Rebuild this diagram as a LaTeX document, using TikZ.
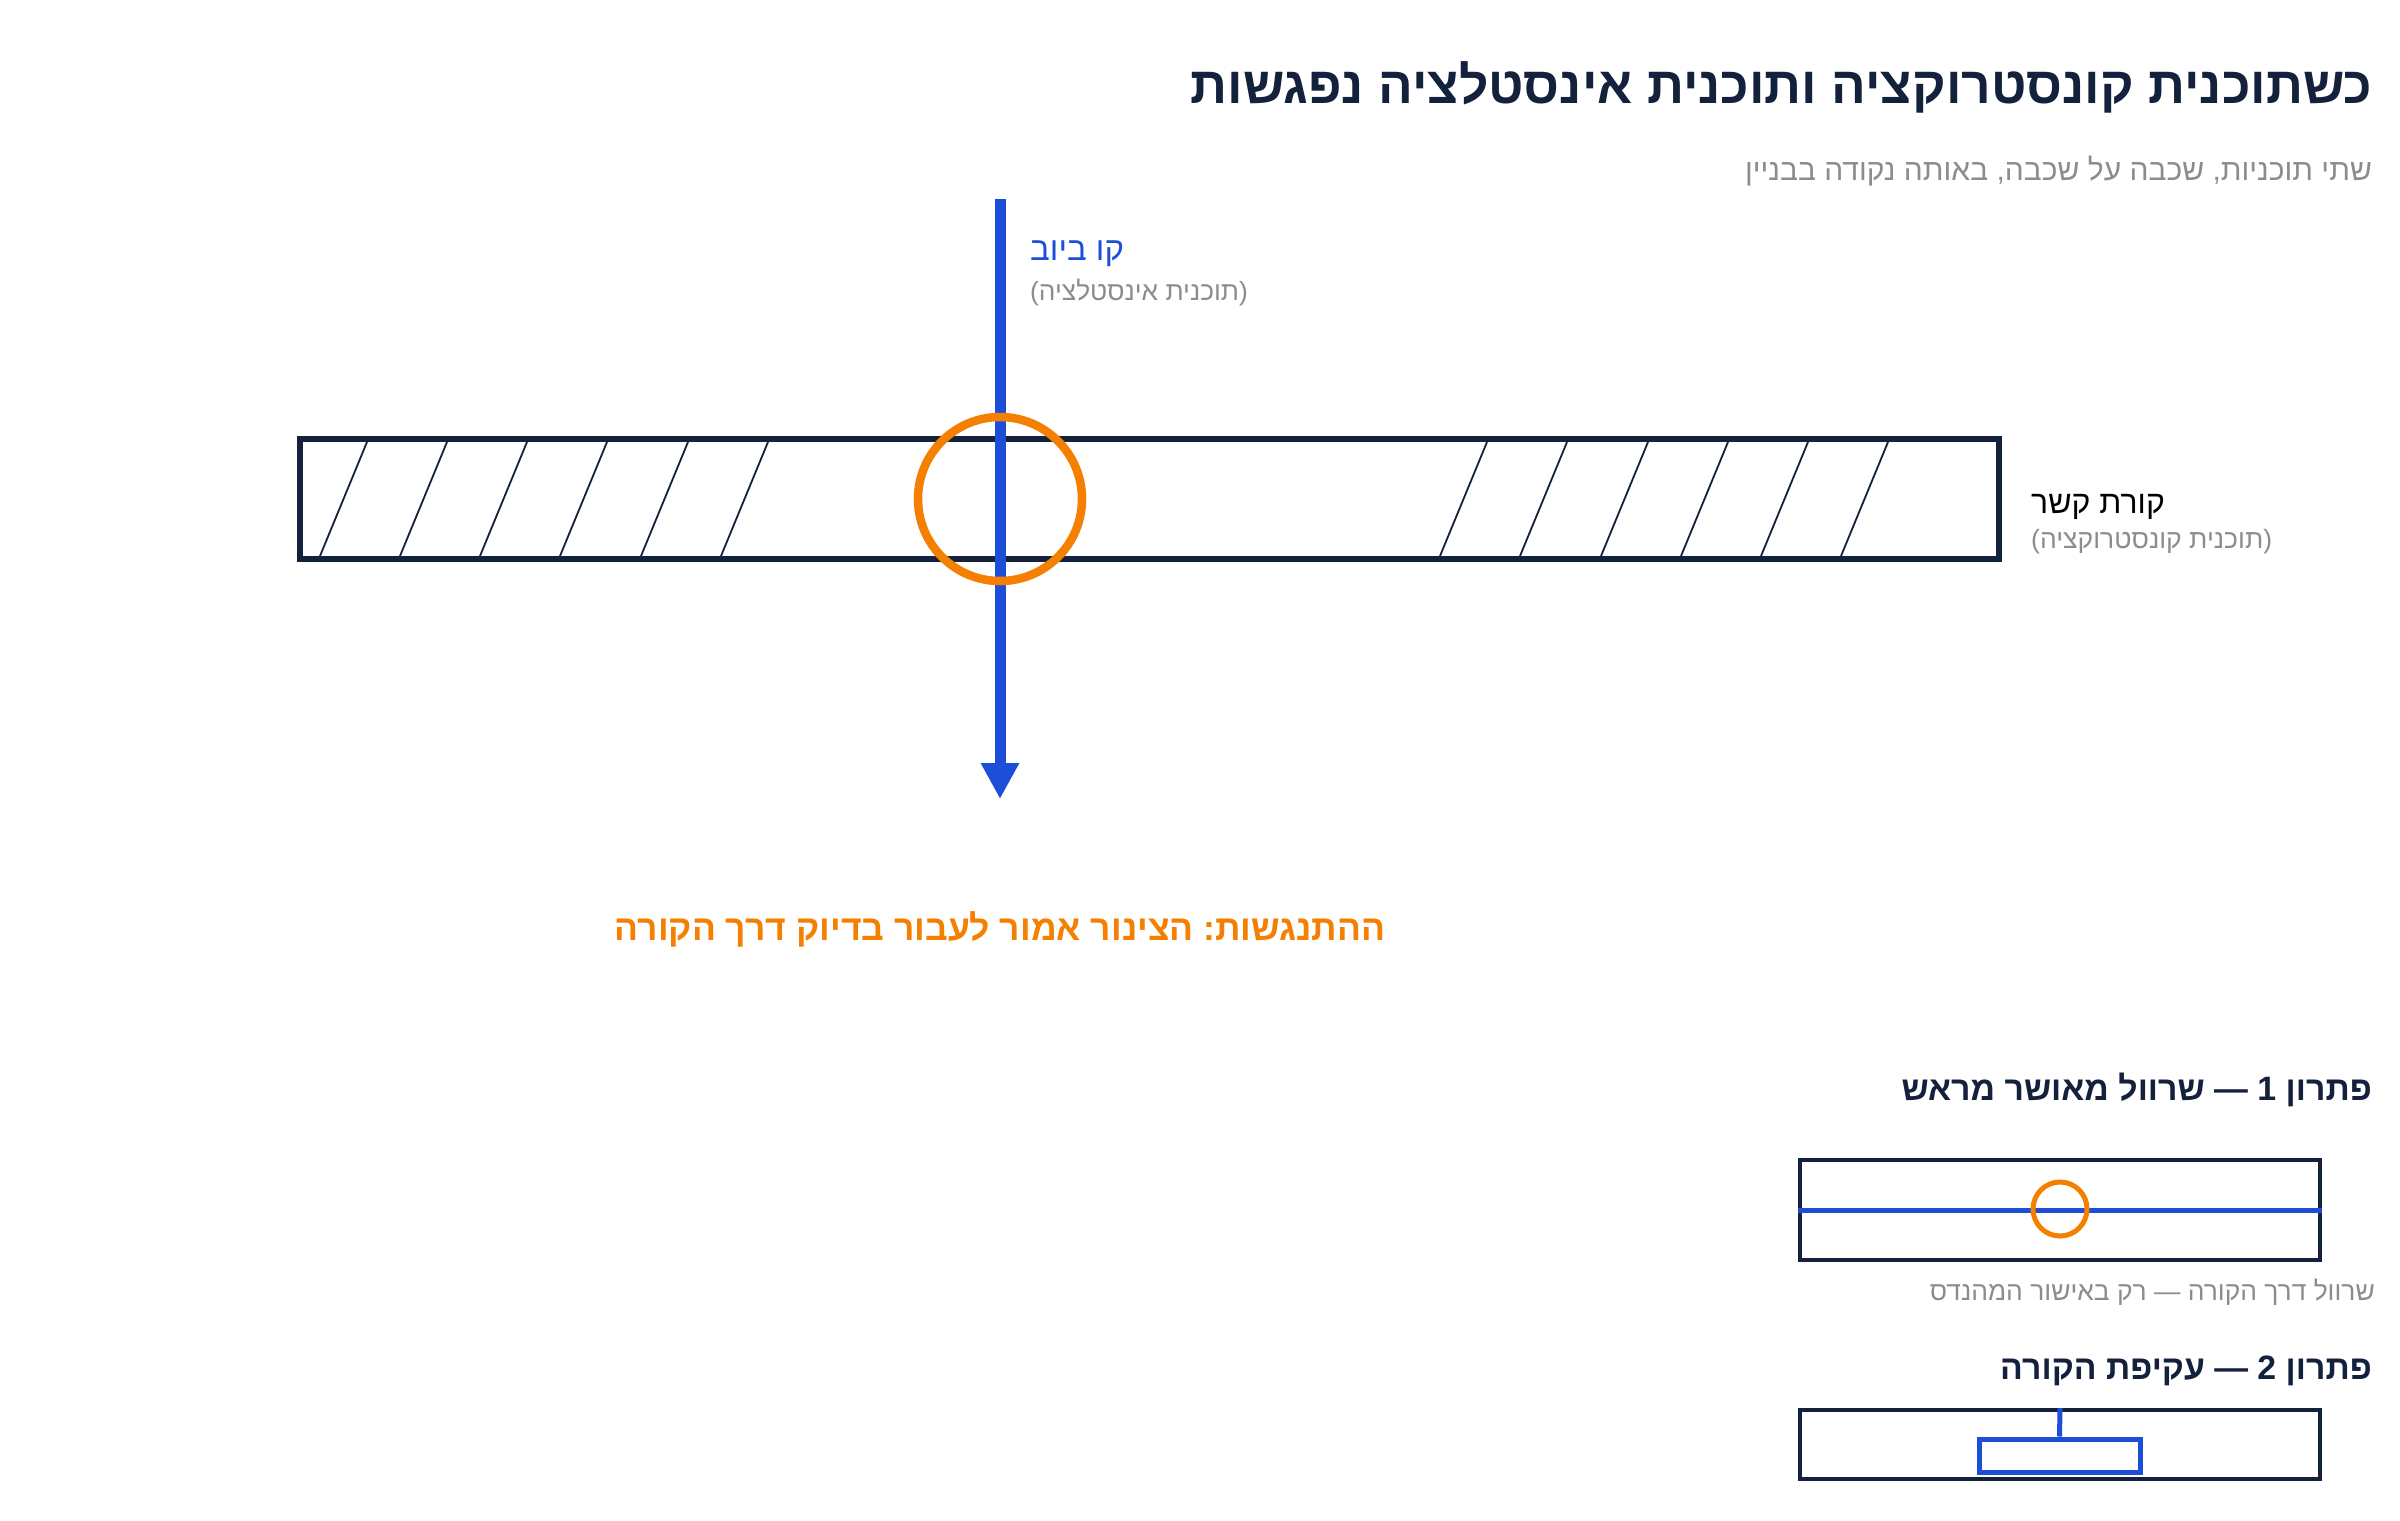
\documentclass[tikz,border=0pt]{standalone}
\usepackage{fontspec}
\setmainfont{Liberation Sans}
\newfontfamily\heb[Script=Hebrew]{Liberation Sans}
\TeXXeTstate=1
\frenchspacing
\usetikzlibrary{arrows.meta}
\definecolor{navy}{HTML}{14213D}
\definecolor{pipeblue}{HTML}{1D4ED8}
\definecolor{clashorange}{HTML}{F57F00}
\definecolor{notegray}{HTML}{8C8C8C}
\tikzstyle{beam} = [rectangle, draw=navy, line width=6pt, minimum width=1699pt, minimum height=120pt, inner sep=0pt]
\tikzstyle{hatch} = [navy, line width=1.8pt]
\tikzstyle{pipe} = [pipeblue, line width=11pt, -{Triangle[length=36pt,width=36pt]}]
\tikzstyle{clash} = [circle, draw=clashorange, line width=8.5pt, minimum size=164pt, inner sep=0pt]
\tikzstyle{solbox} = [rectangle, draw=navy, line width=4pt, minimum width=520pt, inner sep=0pt]
\tikzstyle{hebtxt} = [inner sep=0pt, anchor=base east]
\tikzstyle{hebleft} = [inner sep=0pt, anchor=base west]

\begin{document}
\begin{tikzpicture}[x=1pt,y=-1pt]
            \useasboundingbox[fill=white] (0,0) rectangle (2400,1520);
            % titles
            \node[hebtxt, text=navy, font=\heb\bfseries\fontsize{51.5}{60}\selectfont] (title) at (2372,103) {\beginR כשתוכנית קונסטרוקציה ותוכנית אינסטלציה נפגשות\endR};
            \node[hebtxt, text=notegray, font=\heb\fontsize{30}{34}\selectfont] (subtitle) at (2372,180) {\beginR שתי תוכניות, שכבה על שכבה, באותה נקודה בבניין\endR};
            % beam with hatching
            \node[beam] (beam) at (1149.5,499) {};
            \foreach \x in {320,400,480,560,641,721,1440,1520,1601,1681,1761,1841}
                \draw[hatch] (\x,556) -- (\x+47,442);
            \node[hebleft, font=\heb\fontsize{32}{36}\selectfont] (beamlbl) at (2031,513) {\beginR קורת קשר\endR};
            \node[hebleft, text=notegray, font=\heb\fontsize{26.5}{30}\selectfont] (beamsub) at (2031,548) {\beginR (תוכנית קונסטרוקציה)\endR};
            % pipe
            \coordinate (pipetop) at (1000,199);
            \coordinate (pipeend) at (1000,799);
            \draw[pipe] (pipetop) -- (pipeend);
            \node[hebleft, text=pipeblue, font=\heb\fontsize{33}{36}\selectfont] (pipelbl) at (1030,260) {\beginR קו ביוב\endR};
            \node[hebleft, text=notegray, font=\heb\fontsize{26.3}{30}\selectfont] (pipesub) at (1030,300) {\beginR (תוכנית אינסטלציה)\endR};
            % clash
            \node[clash] (clash) at (1000,499) {};
            \node[inner sep=0pt, anchor=base, text=clashorange, font=\heb\bfseries\fontsize{35.5}{40}\selectfont] (clashlbl) at (1000,940) {\beginR ההתנגשות: הצינור אמור לעבור בדיוק דרך הקורה\endR};
            % solution 1
            \node[hebtxt, text=navy, font=\heb\bfseries\fontsize{33.8}{38}\selectfont] (sol1) at (2372,1100) {\beginR פתרון 1 — שרוול מאושר מראש\endR};
            \node[solbox, minimum height=100pt] (box1) at (2060,1210) {};
            \draw[pipeblue, line width=5pt] (box1.west) -- (box1.east);
            \node[circle, draw=clashorange, line width=5pt, minimum size=54pt, inner sep=0pt] (sleeve) at (2060,1209) {};
            \node[hebtxt, text=notegray, font=\heb\fontsize{26.4}{30}\selectfont] (sol1note) at (2375,1300) {\beginR שרוול דרך הקורה — רק באישור המהנדס\endR};
            % solution 2
            \node[hebtxt, text=navy, font=\heb\bfseries\fontsize{33.8}{38}\selectfont] (sol2) at (2372,1379) {\beginR פתרון 2 — עקיפת הקורה\endR};
            \node[solbox, minimum height=69pt] (box2) at (2060,1444.5) {};
            \node[rectangle, draw=pipeblue, line width=5pt, minimum width=161pt, minimum height=33pt, inner sep=0pt] (bypass) at (2059.5,1455.5) {};
            \draw[pipeblue, line width=5pt] (box2.north) -- (bypass.north);
        \end{tikzpicture}
\end{document}
